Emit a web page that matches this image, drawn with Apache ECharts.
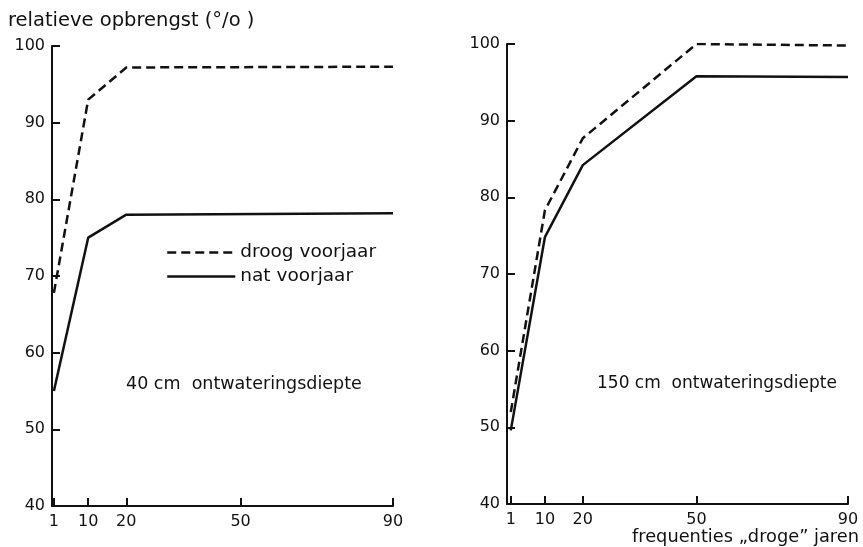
<!DOCTYPE html>
<html>
<head>
<meta charset="utf-8">
<script src="https://cdn.jsdelivr.net/npm/echarts@6/dist/echarts.min.js"></script>
<style>
  html, body { margin: 0; padding: 0; background: #fff; }
  #chart { width: 863px; height: 547px; }
</style>
</head>
<body>
<div id="chart"></div>
<script>
// frequentie droge jaren (x) en relatieve opbrengst (%)
let xTicks = [1, 10, 20, 50, 90];
let yMin = 40, yMax = 100;

let x40 = [1, 10, 20, 90];
let droog40 = [67.8, 93, 97.2, 97.3];
let nat40 = [55, 75, 78, 78.2];

let x150 = [1, 10, 20, 50, 90];
let droog150 = [52, 78.3, 87.7, 100, 99.8];
let nat150 = [49.6, 74.8, 84.2, 95.8, 95.7];

let font = 'DejaVu Sans';
let black = '#111';

function pairs(xs, ys) {
    return xs.map((x, i) => [x, ys[i]]);
}

function xAxis(idx, min) {
    return {
        type: 'value', gridIndex: idx, min: min, max: 90,
        axisLine: {show: true, onZero: false, lineStyle: {color: black, width: 2}},
        axisTick: {show: true, inside: true, length: 8, customValues: xTicks,
            lineStyle: {color: black, width: 2}},
        axisLabel: {customValues: xTicks, color: black, fontFamily: font, fontSize: 16, margin: 8},
        splitLine: {show: false}
    };
}

function yAxis(idx) {
    return {
        type: 'value', gridIndex: idx, min: yMin, max: yMax, interval: 10,
        axisLine: {show: true, onZero: false, lineStyle: {color: black, width: 2}},
        axisTick: {show: true, inside: true, length: 8, lineStyle: {color: black, width: 2}},
        axisLabel: {color: black, fontFamily: font, fontSize: 16, margin: 7},
        splitLine: {show: false}
    };
}

function line(name, idx, data, dashed) {
    return {
        name: name, type: 'line', xAxisIndex: idx, yAxisIndex: idx,
        data: data, symbol: 'none', silent: true,
        itemStyle: {color: black},
        lineStyle: {color: black, width: 2.5, type: dashed ? [9, 5] : 'solid'}
    };
}

let chart = echarts.init(document.getElementById('chart'));
chart.setOption({
    animation: false,
    backgroundColor: '#fff',
    textStyle: {fontFamily: font, color: black},
    grid: [
        {left: 52, top: 46, width: 341, height: 460},
        {left: 507, top: 44, width: 341, height: 460}
    ],
    xAxis: [xAxis(0, 0.5), xAxis(1, 0)],
    yAxis: [yAxis(0), yAxis(1)],
    legend: {
        show: true, orient: 'vertical', left: 161, top: 238, itemWidth: 68, itemHeight: 14,
        itemGap: 5, data: ['droog voorjaar', 'nat voorjaar'], selectedMode: false,
        itemStyle: {color: 'rgba(0,0,0,0)', borderWidth: 0, opacity: 0},
        lineStyle: {width: 2.5},
        textStyle: {color: black, fontFamily: font, fontSize: 18.5}
    },
    graphic: [
        {type: 'text', left: 8, top: 11,
            style: {text: 'relatieve opbrengst (°/o )', fill: black, font: '19.5px "DejaVu Sans"'}},
        {type: 'text', left: 126, top: 375,
            style: {text: '40 cm  ontwateringsdiepte', fill: black, font: '17.5px "DejaVu Sans"'}},
        {type: 'text', left: 597, top: 375,
            style: {text: '150 cm  ontwateringsdiepte', fill: black, font: '17px "DejaVu Sans"'}},
        {type: 'text', right: 4, top: 528,
            style: {text: 'frequenties „droge” jaren', fill: black, font: '17.8px "DejaVu Sans"'}}
    ],
    series: [
        line('droog voorjaar', 0, pairs(x40, droog40), true),
        line('nat voorjaar', 0, pairs(x40, nat40), false),
        line('droog150', 1, pairs(x150, droog150), true),
        line('nat150', 1, pairs(x150, nat150), false)
    ]
});
</script>
</body>
</html>
